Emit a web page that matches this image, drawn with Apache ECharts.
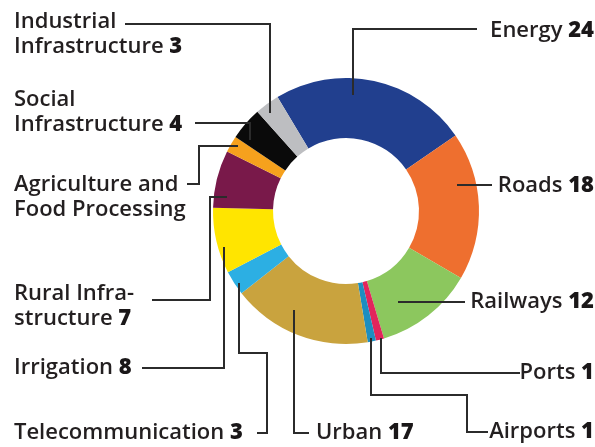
<!DOCTYPE html>
<html>
<head>
<meta charset="utf-8">
<script src="https://cdn.jsdelivr.net/npm/echarts@6/dist/echarts.min.js"></script>
<style>
html,body{margin:0;padding:0;background:#fff;}
#c{width:595px;height:447px;}
</style>
</head>
<body>
<div id="c"></div>
<script>
// ---- data ----
var categories = ['Energy', 'Roads', 'Railways', 'Ports', 'Airports', 'Urban', 'Telecommunication',
  'Irrigation', 'Rural Infrastructure', 'Agriculture and Food Processing', 'Social Infrastructure', 'Industrial Infrastructure'];
var values = [24, 18, 12, 1, 1, 17, 3, 8, 7, 2, 4, 3];
var labelTexts = ['Energy', 'Roads', 'Railways', 'Ports', 'Airports', 'Urban', 'Telecommunication',
  'Irrigation', 'Rural Infra-\nstructure', 'Agriculture and\nFood Processing', 'Social\nInfrastructure', 'Industrial\nInfrastructure'];
var showValue = [true, true, true, true, true, true, true, true, true, false, true, true];

// ---- styles / layout ----
var colors = ['#213f8e', '#ee6f2f', '#8cc75e', '#e2255c', '#1d8ec0', '#c9a33e', '#2cafe3',
  '#ffe500', '#79194a', '#f6a11d', '#0a0a0a', '#bdbec1'];
var labelPos = [
  {x: 594, y: 31, align: 'right'},
  {x: 594, y: 186, align: 'right'},
  {x: 594, y: 302, align: 'right'},
  {x: 594, y: 373, align: 'right'},
  {x: 594, y: 432, align: 'right'},
  {x: 316, y: 433, align: 'left'},
  {x: 14, y: 433, align: 'left'},
  {x: 14, y: 368, align: 'left'},
  {x: 14, y: 306, align: 'left'},
  {x: 14, y: 197, align: 'left'},
  {x: 14, y: 112, align: 'left'},
  {x: 14, y: 34, align: 'left'}
];
var leaderLines = [
  [[353, 95], [353, 29], [477, 29]],
  [[457, 185], [492, 185]],
  [[398, 302], [465, 302]],
  [[381, 338], [381, 373], [520, 373]],
  [[371, 338], [371, 395], [467, 395], [467, 432], [488, 432]],
  [[294, 310], [294, 433], [309, 433]],
  [[239, 283], [239, 353], [267, 353], [267, 433], [257, 433]],
  [[224, 247], [224, 368], [142, 368]],
  [[227, 197], [210, 197], [210, 300], [152, 300]],
  [[238, 146], [199, 146], [199, 184], [187, 184]],
  [[250, 140], [250, 123], [195, 123]],
  [[270, 113], [270, 24], [125, 24]]
];

var chart = echarts.init(document.getElementById('c'), null, {renderer: 'canvas'});
var data = categories.map(function (c, i) {
  return {name: c, value: values[i], itemStyle: {color: colors[i]}};
});
chart.setOption({
  animation: false,
  backgroundColor: '#ffffff',
  graphic: leaderLines.map(function (pts) {
    return {
      type: 'polyline',
      z: 100,
      silent: true,
      shape: {points: pts},
      style: {stroke: '#2b2b2b', lineWidth: 2, fill: null}
    };
  }),
  series: [{
    type: 'pie',
    center: [346, 211],
    radius: [73, 133],
    startAngle: 121,
    clockwise: true,
    avoidLabelOverlap: false,
    data: data,
    itemStyle: {borderWidth: 0},
    label: {
      show: true,
      position: 'outside',
      fontFamily: 'Open Sans',
      fontSize: 22,
      fontWeight: 600,
      lineHeight: 25,
      color: '#231f20',
      formatter: function (p) {
        var i = p.dataIndex;
        return labelTexts[i] + (showValue[i] ? ' {v|' + values[i] + '}' : '');
      },
      rich: {
        v: {fontFamily: 'Open Sans', fontSize: 22, lineHeight: 25, fontWeight: 800, color: '#1a1718'}
      }
    },
    labelLine: {show: false},
    labelLayout: function (p) {
      var i = p.dataIndex;
      return {
        x: labelPos[i].x,
        y: labelPos[i].y,
        align: labelPos[i].align,
        verticalAlign: 'middle'
      };
    },
    emphasis: {disabled: true}
  }]
});
</script>
</body>
</html>
